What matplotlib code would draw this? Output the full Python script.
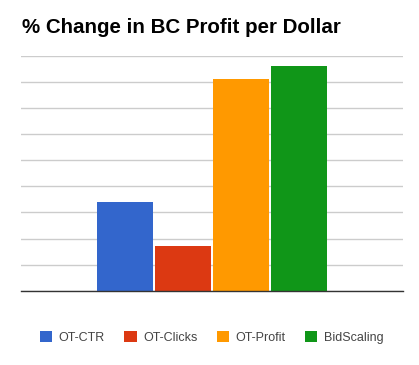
import matplotlib.pyplot as plt
from matplotlib.patches import Patch

# data (units = gridline steps, no axis labels shown)
series = ['OT-CTR', 'OT-Clicks', 'OT-Profit', 'BidScaling']
values = [3.41, 1.71, 8.11, 8.61]
colors = ['#3366cc', '#dc3912', '#ff9900', '#109618']

plt.rcParams['font.family'] = ['Liberation Sans', 'DejaVu Sans']

fig = plt.figure(figsize=(4.19, 3.65), dpi=100)
ax = fig.add_axes([0.05, 0.2036, 0.912, 0.643])

x = list(range(len(series)))
ax.bar(x, values, width=0.98, color=colors, zorder=2)

ax.set_xlim(1.5 - 3.293, 1.5 + 3.293)
ax.set_ylim(0, 9)
ax.set_yticks(range(0, 10))
ax.yaxis.grid(True, color='#cccccc', linewidth=1, zorder=0)
ax.tick_params(left=False, bottom=False, labelleft=False, labelbottom=False)
for s in ['top', 'right', 'left']:
    ax.spines[s].set_visible(False)
ax.spines['bottom'].set_color('#333333')
ax.spines['bottom'].set_linewidth(1.0)
ax.spines['bottom'].set_zorder(3)

fig.text(0.052, 0.925, '% Change in BC Profit per Dollar', fontsize=14.8,
         fontweight='bold', ha='left', va='center', color='#000000')

handles = [Patch(facecolor=c, edgecolor='none') for c in colors]
fig.legend(handles, series, loc='center', bbox_to_anchor=(0.505, 0.075), ncol=4,
           frameon=False, fontsize=9, handlelength=1.0, handleheight=1.0,
           columnspacing=1.55, handletextpad=0.5, labelcolor='#444444')

plt.savefig('out.png', dpi=100)
